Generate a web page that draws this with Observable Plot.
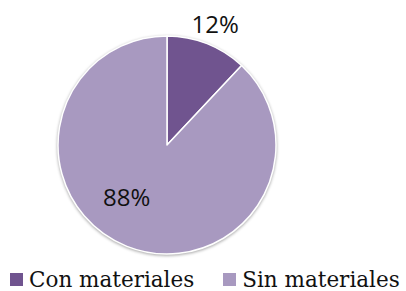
<!DOCTYPE html>
<html>
<head>
<meta charset="utf-8">
<script src="https://cdn.jsdelivr.net/npm/d3@7"></script>
<script src="https://cdn.jsdelivr.net/npm/@observablehq/plot@0.6"></script>
<style>
  html, body { margin: 0; padding: 0; background: #fff; }
  #chart { width: 406px; height: 291px; position: relative; overflow: hidden; }
  #legend { position: absolute; left: 10px; top: 267px; width: 396px; white-space: nowrap; }
  #legend > * { flex-wrap: nowrap !important; margin: 0 !important; min-height: 0 !important; }
  #legend [class*="swatch"] { margin-right: 29px !important; }
  #legend [class*="swatch"] > svg { margin-right: 6px !important; }
</style>
</head>
<body>
<div id="chart"><div id="plot"></div><div id="legend"></div></div>
<script>
// ---- data ----
const categories = ["Con materiales", "Sin materiales"];
const values = [12, 88];
const labels = ["12%", "88%"];
const colors = ["#70548f", "#a899c0"];

// ---- layout ----
const W = 406, H = 262;
const CX = 167, CY = 145, R = 109;
const labelRadius = [1.19, 0.615];     // in units of pie radius
const labelAngleShift = [0, 16];       // degrees, relative to slice mid-angle

const pie = d3.pie().sort(null).value(d => d.value);
const slices = pie(categories.map((c, i) => ({category: c, value: values[i], label: labels[i]})));
const labelData = slices.map((s, i) => {
  const a = (s.startAngle + s.endAngle) / 2 + labelAngleShift[i] * Math.PI / 180;
  return {label: s.data.label, x: Math.sin(a) * labelRadius[i], y: Math.cos(a) * labelRadius[i]};
});

function pieMark(index, scales) {
  const {x, y} = scales;
  const cx = x(0), cy = y(0), r = x(1) - x(0);
  const arc = d3.arc().innerRadius(0).outerRadius(r);
  const g = d3.create("svg:g")
    .attr("transform", `translate(${cx},${cy})`)
    .style("filter", "drop-shadow(0px 1px 1.5px rgba(0,0,0,0.35))");
  g.selectAll("path").data(slices).join("path")
    .attr("d", arc)
    .attr("fill", d => scales.color(d.data.category))
    .attr("stroke", "#fff")
    .attr("stroke-width", 1.5)
    .attr("stroke-linejoin", "round");
  return g.node();
}

const plot = Plot.plot({
  width: W,
  height: H,
  margin: 0,
  x: {domain: [-CX / R, (W - CX) / R], axis: null},
  y: {domain: [-(H - CY) / R, CY / R], axis: null},
  color: {type: "ordinal", domain: categories, range: colors},
  style: {background: "#fff", overflow: "visible"},
  marks: [
    pieMark,
    Plot.text(labelData, {
      x: "x", y: "y", text: "label",
      fontSize: 24, fontFamily: "Open Sans", fill: "#111"
    })
  ]
});
document.getElementById("plot").appendChild(plot);

const legend = Plot.legend({
  color: {type: "ordinal", domain: categories, range: colors},
  swatchSize: 13,
  style: {fontFamily: "DejaVu Serif", fontSize: "21.5px", color: "#111", background: "transparent"}
});
document.getElementById("legend").appendChild(legend);
</script>
</body>
</html>
